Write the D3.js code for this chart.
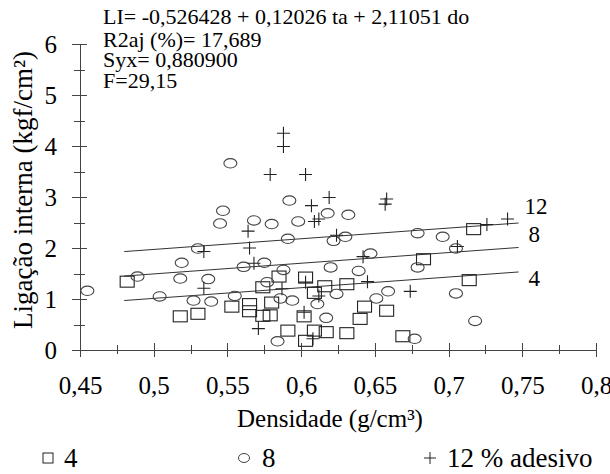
<!DOCTYPE html>
<html>
<head>
<meta charset="utf-8">
<script src="https://cdn.jsdelivr.net/npm/d3@7"></script>
<style>
  svg text { font-family: "Liberation Serif", "Times New Roman", Tinos, serif !important; }
</style>
</head>
<body style="margin:0">
<svg width="610" height="474" font-family="Liberation Serif"></svg>
<script>
'use strict';

// ticks
var xMajor = [0.45, 0.5, 0.55, 0.6, 0.65, 0.7, 0.75, 0.8];
var xMinor = [0.475, 0.525, 0.575, 0.625, 0.675, 0.725, 0.775];
var yMajor = [0, 1, 2, 3, 4, 5, 6];
var yMinor = [0.5, 1.5, 2.5, 3.5, 4.5, 5.5];

// 4 % adesivo (squares)
var adesivo4 = [
  [0.482, 1.34], [0.518, 0.66], [0.530, 0.71], [0.553, 0.85], [0.565, 0.90],
  [0.565, 0.76], [0.574, 0.67], [0.579, 0.68], [0.574, 1.23], [0.585, 1.44],
  [0.580, 0.93], [0.603, 1.42], [0.609, 1.12], [0.616, 1.25], [0.602, 0.66],
  [0.591, 0.38], [0.609, 0.38], [0.617, 0.35], [0.603, 0.18], [0.631, 1.29],
  [0.643, 0.85], [0.658, 0.77], [0.640, 0.61], [0.631, 0.33], [0.669, 0.27],
  [0.683, 1.78], [0.717, 2.37], [0.714, 1.37]
];

// 8 % adesivo (circles)
var adesivo8 = [
  [0.455, 1.16], [0.489, 1.44], [0.504, 1.05], [0.519, 1.71], [0.518, 1.40],
  [0.527, 0.97], [0.537, 1.39], [0.530, 1.99], [0.539, 0.95], [0.547, 2.73],
  [0.545, 2.48], [0.552, 3.66], [0.592, 2.93], [0.618, 2.68], [0.568, 2.54],
  [0.580, 2.47], [0.598, 2.52], [0.591, 2.18], [0.622, 2.14], [0.561, 1.63],
  [0.575, 1.71], [0.588, 1.57], [0.620, 1.62], [0.555, 1.06], [0.577, 1.33],
  [0.586, 1.01], [0.594, 0.97], [0.611, 0.90], [0.624, 1.10], [0.617, 0.63],
  [0.584, 0.17], [0.632, 2.65], [0.630, 2.22], [0.679, 2.29], [0.696, 2.22],
  [0.705, 1.99], [0.647, 1.89], [0.639, 1.55], [0.679, 1.62], [0.651, 1.01],
  [0.659, 1.15], [0.705, 1.11], [0.677, 0.22], [0.718, 0.57]
];

// 12 % adesivo (plus)
var adesivo12 = [
  [0.588, 4.25], [0.588, 3.99], [0.579, 3.44], [0.603, 3.44], [0.619, 2.99],
  [0.607, 2.83], [0.658, 2.96], [0.657, 2.86], [0.564, 2.33], [0.609, 2.52],
  [0.612, 2.57], [0.624, 2.25], [0.534, 1.93], [0.565, 2.00], [0.568, 1.70],
  [0.534, 1.21], [0.587, 1.20], [0.603, 1.33], [0.612, 1.06], [0.602, 0.74],
  [0.571, 0.42], [0.608, 0.22], [0.642, 1.83], [0.645, 1.34], [0.674, 1.15],
  [0.726, 2.46], [0.740, 2.57], [0.706, 2.03]
];

// fitted lines (endpoints)
var fitX = [0.48, 0.7475];
var fit4 = [0.97, 1.53];
var fit8 = [1.45, 2.01];
var fit12 = [1.93, 2.49];
var fitNames = ['4', '8', '12'];

var statsText = [
  'LI= -0,526428 + 0,12026 ta + 2,11051 do',
  'R2aj (%)= 17,689',
  'Syx= 0,880900',
  'F=29,15'
];

var FONT = 'Liberation Serif';
var svg = d3.select('svg');

var x = d3.scaleLinear().domain([0.45, 0.8]).range([80, 596]);
var y = d3.scaleLinear().domain([0, 6]).range([350, 44]);

function comma(d) {
  return String(d).replace('.', ',');
}

// d3.axis puts sans-serif on the group, put the serif back
function styleAxis(g) {
  g.attr('font-family', FONT).attr('font-size', 25);
  g.selectAll('path, line').attr('stroke', '#444').attr('shape-rendering', 'crispEdges');
}

/* x axis */
var xAxis = svg.append('g')
  .attr('transform', 'translate(0,' + y(0) + ')')
  .call(d3.axisBottom(x).tickValues(xMajor).tickFormat(comma).tickSizeOuter(0))
  .call(styleAxis);
xAxis.selectAll('.tick line').attr('y1', -7).attr('y2', 7);
xAxis.selectAll('.tick text').attr('y', 44).attr('dy', 0);

var xMinorAxis = svg.append('g')
  .attr('transform', 'translate(0,' + y(0) + ')')
  .call(d3.axisBottom(x).tickValues(xMinor).tickFormat(''))
  .call(styleAxis);
xMinorAxis.select('.domain').remove();
xMinorAxis.selectAll('.tick line').attr('y1', -5).attr('y2', 4);

/* y axis */
var yAxis = svg.append('g')
  .attr('transform', 'translate(' + x(0.45) + ',0)')
  .call(d3.axisLeft(y).tickValues(yMajor).tickFormat(d3.format('d')).tickSizeOuter(0))
  .call(styleAxis);
yAxis.selectAll('.tick line').attr('x1', -8).attr('x2', 7);
yAxis.selectAll('.tick text').attr('x', -23).attr('dy', '0.34em');

var yMinorAxis = svg.append('g')
  .attr('transform', 'translate(' + x(0.45) + ',0)')
  .call(d3.axisLeft(y).tickValues(yMinor).tickFormat(''))
  .call(styleAxis);
yMinorAxis.select('.domain').remove();
yMinorAxis.selectAll('.tick line').attr('x1', -6).attr('x2', 5);

/* axis titles */
svg.append('text')
  .attr('x', 330)
  .attr('y', 427)
  .attr('text-anchor', 'middle')
  .attr('font-size', 25)
  .text('Densidade (g/cm³)');

svg.append('text')
  .attr('transform', 'translate(32,190) rotate(-90)')
  .attr('text-anchor', 'middle')
  .attr('font-size', 27)
  .text('Ligação interna (kgf/cm²)');

/* regression lines */
var fits = [fit4, fit8, fit12];
var labelDy = [14, -5, -9];
var line = d3.line()
  .x(function(d, i) { return x(fitX[i]); })
  .y(function(d) { return y(d); });

svg.selectAll('.fit')
  .data(fits)
  .enter()
  .append('path')
  .attr('class', 'fit')
  .attr('d', line)
  .attr('fill', 'none')
  .attr('stroke', '#333')
  .attr('stroke-width', 1);

svg.selectAll('.fit-label')
  .data(fits)
  .enter()
  .append('text')
  .attr('class', 'fit-label')
  .attr('x', function(d, i) { return x(fitX[1]) + (i === 2 ? 6 : 10); })
  .attr('y', function(d, i) { return y(d[1]) + labelDy[i]; })
  .attr('font-size', 23)
  .text(function(d, i) { return fitNames[i]; });

/* points */
svg.selectAll('.sq')
  .data(adesivo4)
  .enter()
  .append('rect')
  .attr('class', 'sq')
  .attr('x', function(d) { return x(d[0]) - 7; })
  .attr('y', function(d) { return y(d[1]) - 5.5; })
  .attr('width', 14)
  .attr('height', 11)
  .attr('fill', 'none')
  .attr('stroke', '#222')
  .attr('stroke-width', 1.1);

svg.selectAll('.circ')
  .data(adesivo8)
  .enter()
  .append('ellipse')
  .attr('class', 'circ')
  .attr('cx', function(d) { return x(d[0]); })
  .attr('cy', function(d) { return y(d[1]); })
  .attr('rx', 6.5)
  .attr('ry', 4.7)
  .attr('fill', 'none')
  .attr('stroke', '#444')
  .attr('stroke-width', 1.1);

svg.selectAll('.plus')
  .data(adesivo12)
  .enter()
  .append('path')
  .attr('class', 'plus')
  .attr('d', function(d) {
    var cx = x(d[0]), cy = y(d[1]);
    return 'M' + (cx - 6.5) + ',' + cy + 'H' + (cx + 6.5) +
      'M' + cx + ',' + (cy - 6.5) + 'V' + (cy + 6.5);
  })
  .attr('stroke', '#222')
  .attr('stroke-width', 1.1);

/* stats block */
svg.selectAll('.stat')
  .data(statsText)
  .enter()
  .append('text')
  .attr('class', 'stat')
  .attr('x', 103)
  .attr('y', function(d, i) { return [24, 47, 67, 88][i]; })
  .attr('font-size', 22)
  .text(function(d) { return d; });

/* legend */
var legend = svg.append('g').attr('font-size', 27);
legend.append('rect')
  .attr('x', 43).attr('y', 453).attr('width', 10).attr('height', 10)
  .attr('fill', 'none').attr('stroke', '#222');
legend.append('text').attr('x', 64).attr('y', 467).text('4');
legend.append('ellipse')
  .attr('cx', 244).attr('cy', 458).attr('rx', 5.5).attr('ry', 4.5)
  .attr('fill', 'none').attr('stroke', '#444');
legend.append('text').attr('x', 262).attr('y', 467).text('8');
legend.append('path')
  .attr('d', 'M424,458H436M430,452V464')
  .attr('stroke', '#222');
legend.append('text').attr('x', 447).attr('y', 467).text('12 % adesivo');

svg.selectAll('text').attr('font-family', FONT).attr('fill', '#000');
</script>
</body>
</html>
